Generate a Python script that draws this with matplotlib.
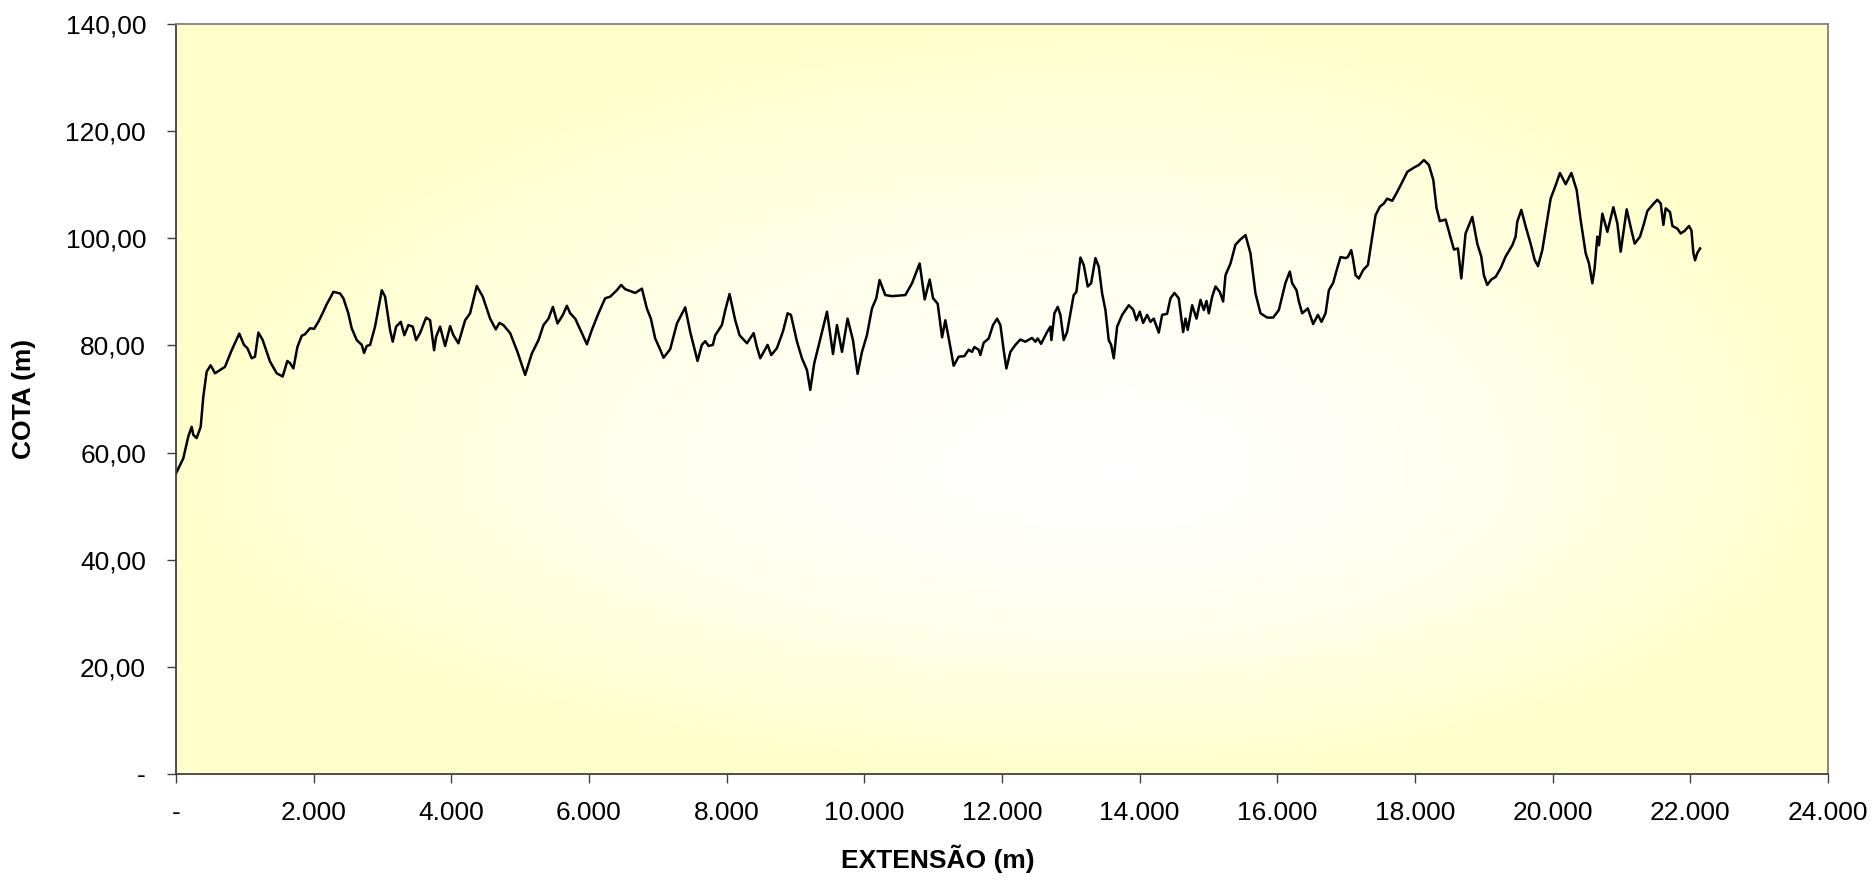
import numpy as np
import matplotlib.pyplot as plt
from matplotlib.colors import LinearSegmentedColormap
from matplotlib.ticker import FuncFormatter

plt.rcParams['font.family'] = ['Liberation Sans', 'DejaVu Sans']

# perfil longitudinal: extensao (m) x cota (m)
extensao = [0, 106, 179, 228, 252, 300, 359, 397, 446, 504, 567, 712, 809, 920, 988, 1037,
            1100, 1148, 1197, 1260, 1366, 1463, 1550, 1618, 1657, 1706, 1764, 1827, 1875, 1948,
            2006, 2068, 2141, 2190, 2238, 2287, 2384, 2432, 2504, 2553, 2626, 2699, 2733, 2771,
            2820, 2892, 2990, 3038, 3110, 3149, 3198, 3266, 3318, 3377, 3440, 3488, 3546, 3634,
            3692, 3750, 3779, 3837, 3910, 3983, 4031, 4103, 4201, 4273, 4370, 4457, 4564, 4646,
            4699, 4757, 4855, 4961, 5073, 5170, 5267, 5339, 5412, 5476, 5543, 5621, 5679, 5727,
            5800, 5897, 5970, 6042, 6138, 6235, 6308, 6405, 6468, 6526, 6672, 6769, 6841, 6899,
            6962, 7025, 7083, 7180, 7278, 7326, 7398, 7471, 7577, 7640, 7689, 7737, 7800, 7834,
            7931, 7980, 8042, 8125, 8188, 8295, 8392, 8440, 8488, 8595, 8648, 8731, 8818, 8886,
            8934, 9022, 9094, 9167, 9215, 9273, 9351, 9458, 9545, 9603, 9676, 9757, 9835, 9902,
            9966, 10038, 10111, 10174, 10222, 10305, 10402, 10596, 10693, 10804, 10877, 10950,
            10999, 11066, 11130, 11177, 11240, 11298, 11371, 11453, 11516, 11565, 11599, 11661,
            11686, 11734, 11807, 11870, 11929, 11977, 12025, 12064, 12122, 12195, 12267, 12340,
            12437, 12485, 12519, 12568, 12655, 12703, 12718, 12762, 12810, 12849, 12897, 12946,
            13004, 13042, 13081, 13140, 13188, 13246, 13295, 13358, 13406, 13455, 13503, 13551,
            13586, 13624, 13673, 13746, 13842, 13906, 13953, 14002, 14051, 14109, 14157, 14205,
            14278, 14327, 14399, 14448, 14506, 14568, 14632, 14666, 14699, 14763, 14826, 14884,
            14932, 14971, 15005, 15054, 15102, 15164, 15213, 15247, 15320, 15392, 15465, 15538,
            15610, 15683, 15756, 15853, 15940, 16022, 16070, 16119, 16182, 16216, 16279, 16313,
            16361, 16443, 16521, 16589, 16642, 16701, 16749, 16812, 16870, 16919, 16991, 17025,
            17074, 17103, 17137, 17185, 17249, 17316, 17365, 17427, 17490, 17548, 17597, 17670,
            17743, 17815, 17888, 17985, 18057, 18130, 18202, 18266, 18314, 18362, 18445, 18508,
            18566, 18624, 18673, 18735, 18833, 18905, 18963, 19001, 19050, 19109, 19172, 19244,
            19317, 19414, 19462, 19486, 19545, 19608, 19680, 19738, 19787, 19850, 19913, 19971,
            20044, 20106, 20189, 20272, 20349, 20407, 20480, 20528, 20577, 20610, 20649, 20673,
            20722, 20795, 20882, 20940, 20988, 21076, 21144, 21192, 21269, 21328, 21376, 21449,
            21521, 21570, 21609, 21642, 21705, 21740, 21812, 21860, 21919, 21981, 22016, 22045,
            22069, 22103, 22142]
cota = [56.1, 58.9, 63.0, 64.8, 63.3, 62.7, 64.8, 70.4, 75.1, 76.3, 74.8, 76.0, 79.1, 82.2, 80.1, 79.5,
        77.6, 77.9, 82.4, 81.0, 77.0, 74.8, 74.2, 77.1, 76.7, 75.7, 79.7, 81.8, 82.1, 83.2,
        83.1, 84.4, 86.3, 87.7, 88.8, 90.0, 89.7, 88.8, 86.0, 83.2, 81.0, 80.1, 78.6, 79.9,
        80.1, 83.5, 90.3, 89.1, 82.9, 80.7, 83.5, 84.4, 81.9, 83.8, 83.5, 81.0, 82.3, 85.2,
        84.7, 79.1, 81.6, 83.5, 79.9, 83.6, 81.9, 80.4, 84.7, 86.0, 91.1, 89.1, 85.0, 83.0,
        84.2, 83.8, 82.3, 78.8, 74.5, 78.5, 81.0, 83.8, 85.0, 87.2, 84.1, 85.7, 87.4, 86.0,
        85.0, 82.3, 80.2, 82.9, 86.0, 88.8, 89.1, 90.3, 91.3, 90.5, 89.8, 90.6, 86.9, 85.0,
        81.3, 79.5, 77.7, 79.3, 84.1, 85.3, 87.1, 82.5, 77.1, 80.1, 80.8, 79.9, 80.1, 81.9,
        83.8, 86.6, 89.6, 84.7, 81.9, 80.4, 82.3, 79.7, 77.6, 80.1, 78.2, 79.5, 82.6, 86.0,
        85.7, 80.7, 77.6, 75.4, 71.7, 76.7, 80.7, 86.3, 78.4, 83.8, 78.8, 85.0, 81.0, 74.7,
        78.8, 81.9, 86.9, 88.8, 92.2, 89.4, 89.2, 89.4, 91.6, 95.3, 88.6, 92.3,
        88.8, 87.8, 81.5, 84.7, 80.4, 76.2, 77.9, 78.0, 79.2, 78.8, 79.7, 79.2,
        78.2, 80.5, 81.3, 83.8, 85.0, 83.8, 79.1, 75.7, 78.8, 80.1, 81.1, 80.7,
        81.4, 80.7, 81.3, 80.3, 82.5, 83.5, 81.0, 86.0, 87.2, 85.7, 81.0, 82.5,
        86.6, 89.4, 90.0, 96.4, 95.0, 91.0, 91.6, 96.3, 94.7, 89.7, 86.6, 81.0,
        80.1, 77.6, 83.5, 85.7, 87.5, 86.7, 84.7, 86.3, 84.2, 85.7, 84.4, 85.0,
        82.4, 85.7, 85.9, 88.8, 89.8, 88.8, 82.5, 85.0, 82.9, 87.5, 85.0, 88.5,
        86.6, 88.3, 86.0, 89.1, 91.0, 90.0, 88.2, 93.1, 95.3, 98.8, 99.8, 100.6,
        97.2, 89.7, 86.0, 85.2, 85.2, 86.6, 89.1, 91.7, 93.8, 91.6, 90.3, 88.2,
        86.0, 86.9, 84.0, 85.7, 84.4, 86.0, 90.3, 91.7, 94.4, 96.5, 96.3, 96.5,
        97.8, 95.9, 93.1, 92.5, 94.1, 95.0, 99.1, 104.3, 105.9, 106.5, 107.4, 107.0,
        108.7, 110.5, 112.4, 113.2, 113.7, 114.6, 113.7, 110.9, 105.6, 103.2, 103.5, 100.6,
        97.9, 98.1, 92.5, 100.9, 104.0, 99.0, 96.6, 93.1, 91.3, 92.3, 92.8, 94.4,
        96.6, 98.7, 100.3, 103.1, 105.3, 102.2, 99.0, 96.0, 94.8, 97.8, 102.8, 107.4,
        109.9, 112.2, 110.1, 112.2, 109.0, 103.4, 97.2, 95.3, 91.6, 94.4, 100.3, 98.7,
        104.6, 101.2, 105.8, 102.8, 97.5, 105.4, 101.5, 99.0, 100.3, 102.8, 105.1, 106.2,
        107.2, 106.5, 102.5, 105.6, 104.9, 102.3, 101.8, 100.9, 101.4, 102.3, 101.5, 97.2,
        95.9, 97.3, 98.1]

x_ticks = np.arange(0, 24001, 2000)
y_ticks = np.arange(0, 141, 20)

fig = plt.figure(figsize=(18.76, 8.8), dpi=100)
ax = fig.add_axes([0.0938, 0.1205, 0.8806, 0.8522])

# fundo com gradiente a partir do centro (branco) ate as bordas (amarelo claro)
gx, gy = np.meshgrid(np.linspace(0, 1, 400), np.linspace(0, 1, 200))
cx, cy = 0.57, 0.40
dx = np.where(gx < cx, (cx - gx) / cx, (gx - cx) / (1 - cx))
dy = np.where(gy < cy, (cy - gy) / cy, (gy - cy) / (1 - cy))
r = np.clip(np.sqrt(dx ** 2 + dy ** 2), 0, 1) ** 1.5
cmap = LinearSegmentedColormap.from_list('fundo', ['#FFFFFF', '#FFFFCC'])
ax.imshow(r, cmap=cmap, extent=[0, 1, 0, 1], origin='lower', aspect='auto',
          transform=ax.transAxes, zorder=0, vmin=0, vmax=1)

ax.plot(extensao, cota, color='black', lw=1.8, zorder=2)

ax.set_xlim(0, 24000)
ax.set_ylim(0, 140)
ax.set_xticks(x_ticks)
ax.set_yticks(y_ticks)


def fmt_x(v, pos):
    if v == 0:
        return '-'
    return f'{int(v):,}'.replace(',', '.')


def fmt_y(v, pos):
    if v == 0:
        return '-'
    return f'{v:.2f}'.replace('.', ',')


ax.xaxis.set_major_formatter(FuncFormatter(fmt_x))
ax.yaxis.set_major_formatter(FuncFormatter(fmt_y))
ax.tick_params(axis='both', direction='out', length=6.5, width=1.0, color='#404040',
               labelsize=19)
ax.tick_params(axis='x', pad=13)
ax.tick_params(axis='y', pad=15)

for s in ['left', 'bottom']:
    ax.spines[s].set_color('#404040')
    ax.spines[s].set_linewidth(1.3)
for s in ['top', 'right']:
    ax.spines[s].set_color('#808080')
    ax.spines[s].set_linewidth(1.3)

ax.set_xlabel('EXTENSÃO (m)', fontsize=19, fontweight='bold', va='center')
ax.set_ylabel('COTA (m)', fontsize=19, fontweight='bold', va='center')
ax.xaxis.set_label_coords(0.5, 1 - 859 / 880, transform=fig.transFigure)
ax.yaxis.set_label_coords(24 / 1876, 0.5, transform=fig.transFigure)
ax.yaxis.label.set_position((24 / 1876, 0.1205 + 0.8522 / 2))

fig.savefig('out.png', dpi=100)
